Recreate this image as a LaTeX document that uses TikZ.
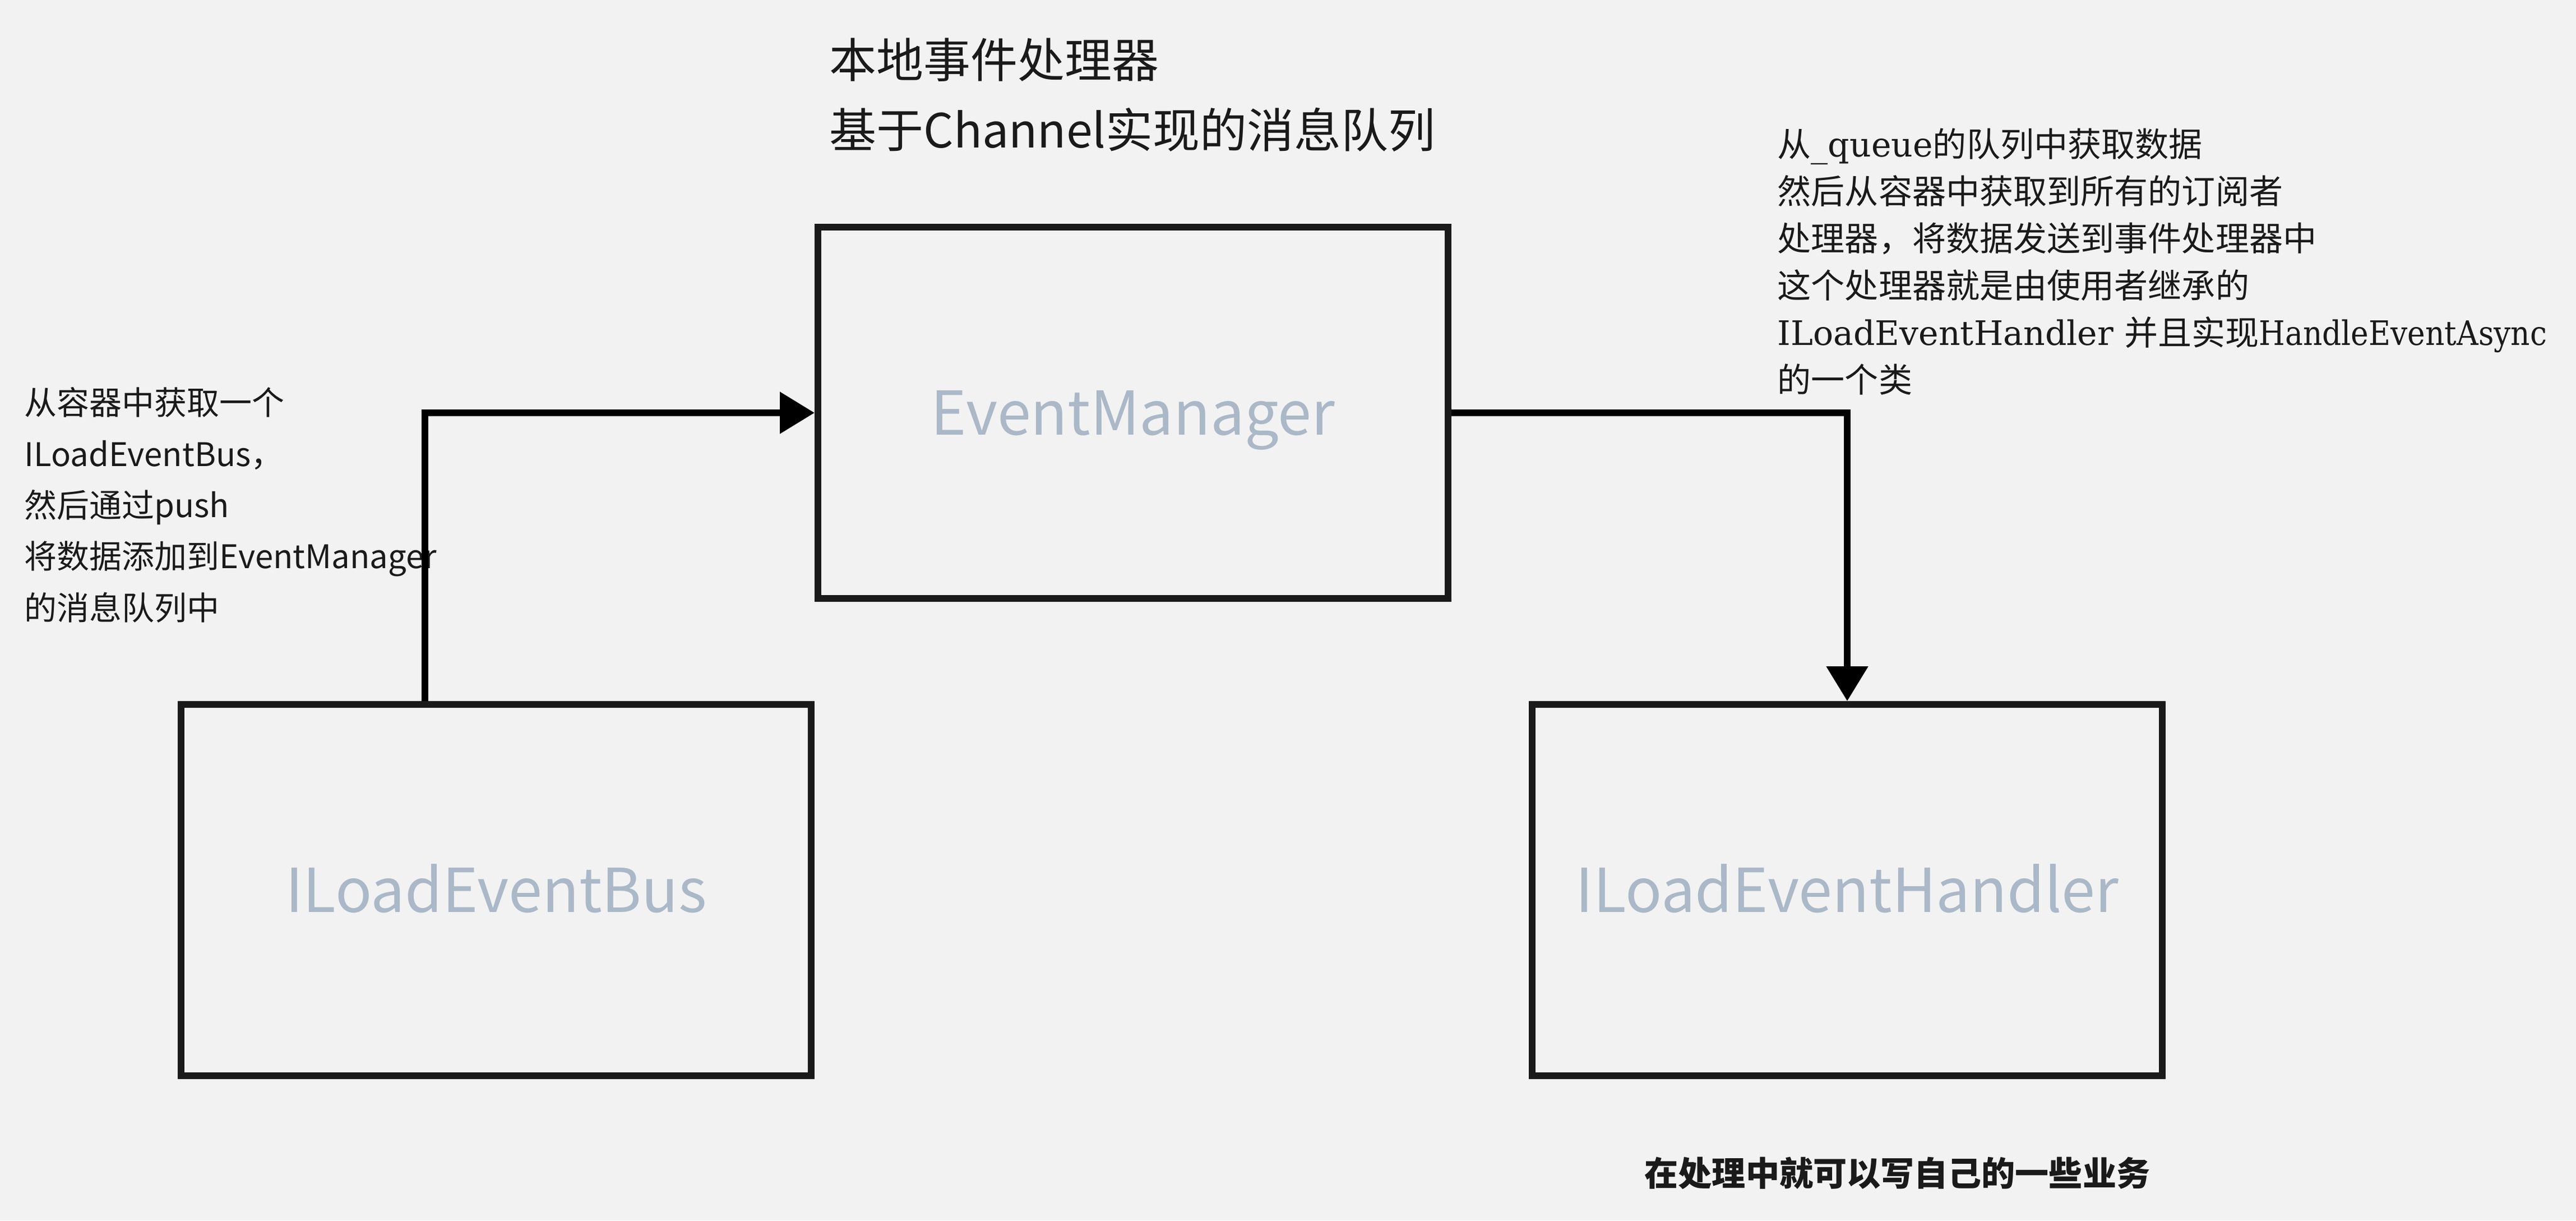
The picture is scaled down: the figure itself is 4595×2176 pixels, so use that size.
\documentclass[tikz,border=0pt]{standalone}
\usepackage{fontspec}
\setmainfont{Noto Sans CJK SC}
\newfontfamily\serifl{DejaVu Serif}
\newfontfamily\seriflc{DejaVu Serif}[FakeStretch=0.89]
\usepackage{tikz}
\usetikzlibrary{positioning,calc,arrows.meta}
\definecolor{bgcol}{RGB}{242,242,242}
\definecolor{boxline}{RGB}{26,26,26}
\definecolor{labelcol}{RGB}{170,184,200}
\tikzset{%
  box/.style={%
    draw=boxline,
    line width=1.2mm,
    rectangle,
    minimum width=112.4mm,
    minimum height=66.2mm,
    inner sep=0pt,
    text height=7.9mm,
    text depth=0pt,
    text=labelcol,
    font=\fontsize{30.7}{36}\selectfont
  },
  flow/.style={%
    draw=black,
    line width=1.2mm,
    -{Triangle[width=7.2mm,length=6.2mm]}
  },
  note/.style={%
    anchor=north west,
    inner sep=0pt,
    align=left,
    text=boxline
  }
}

\begin{document}
\begin{tikzpicture}[x=0.1mm,y=-0.1mm]
      \useasboundingbox (0,0) rectangle (4595,2176);
      \fill[bgcol] (0,0) rectangle (4595,2176);

      \node[box] (manager) at (2021,736)  {EventManager};
      \node[box] (bus)     at (885,1587)  {ILoadEventBus};
      \node[box] (handler) at (3295,1587) {ILoadEventHandler};

      \node[note, font=\fontsize{23.9}{35.6}\selectfont] (title) at (1479,67)
        {本地事件处理器\\基于Channel实现的消息队列};
      \node[note, font=\fontsize{16.5}{26.0}\selectfont] (push) at (43,690)
        {从容器中获取一个\\ILoadEventBus，\\然后通过push\\将数据添加到EventManager\\的消息队列中};
      \node[note, font=\fontsize{17.1}{23.9}\selectfont] (dispatch) at (3170,228)
        {从{\serifl\_queue}的队列中获取数据\\然后从容器中获取到所有的订阅者\\处理器，将数据发送到事件处理器中\\这个处理器就是由使用者继承的\\{\serifl ILoadEventHandler }并且实现{\seriflc HandleEventAsync}\\的一个类};
      \node[note, font=\fontsize{17.1}{23.9}\selectfont\bfseries] (business) at (2933,2062)
        {在处理中就可以写自己的一些业务};

      \draw[flow] ($(bus.north west)+(441,0)$) |- (manager.west);
      \draw[flow] (manager.east) -| (handler.north);
\end{tikzpicture}
\end{document}
